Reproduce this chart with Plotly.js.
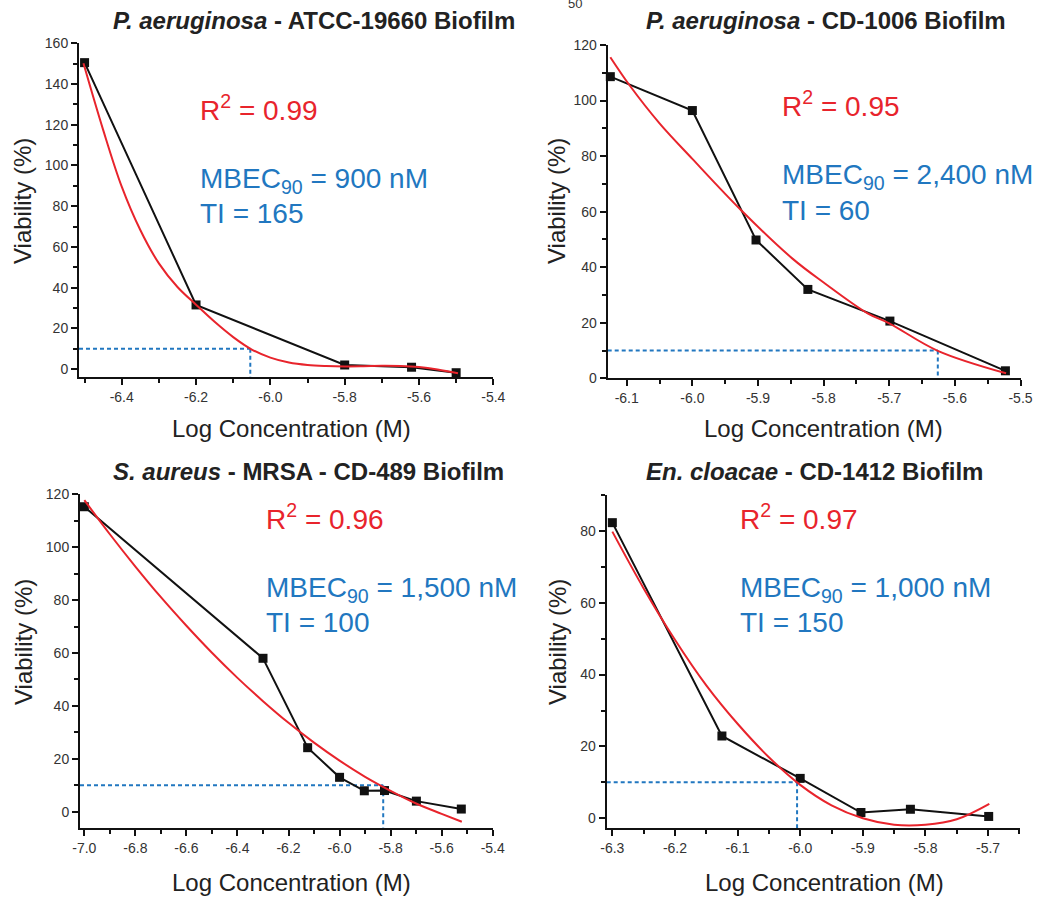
<!DOCTYPE html>
<html><head><meta charset="utf-8">
<script src="https://cdn.plot.ly/plotly-3.0.1.min.js"></script>
<style>html,body{margin:0;padding:0;background:#fff}#chart{width:1037px;height:897px}</style>
</head><body><div id="chart"></div>
<script>
// ---------- DATA ----------
// Panel 1: P. aeruginosa ATCC-19660
const p1X = [-6.50, -6.20, -5.80, -5.62, -5.50];
const p1Y = [150.5, 31.5, 2.0, 0.9, -1.8];
const p1FitX = [-6.503, -6.45, -6.40, -6.35, -6.30, -6.25, -6.20, -6.15, -6.10, -6.05, -6.00, -5.95, -5.90, -5.85, -5.80, -5.75, -5.70, -5.65, -5.60, -5.55, -5.495];
const p1FitY = [150.2, 117.5, 89.6, 68.3, 51.9, 40.3, 31.6, 23.2, 15.7, 9.6, 5.6, 3.2, 2.0, 1.5, 1.3, 1.4, 1.6, 1.5, 1.0, -0.2, -2.1];
const p1Mbec = -6.054;

// Panel 2: P. aeruginosa CD-1006
const p2X = [-6.125, -6.0, -5.903, -5.824, -5.699, -5.523];
const p2Y = [108.6, 96.4, 49.8, 32.0, 20.6, 2.7];
const p2FitX = [-6.125, -6.096, -6.05, -6.0, -5.926, -5.847, -5.8, -5.733, -5.7, -5.626, -5.522];
const p2FitY = [115.6, 105.6, 91.8, 79.0, 60.6, 43.0, 34.5, 23.4, 19.8, 9.9, 1.8];
const p2Mbec = -5.626;

// Panel 3: S. aureus MRSA CD-489
const p3X = [-7.0, -6.3, -6.125, -6.0, -5.903, -5.824, -5.699, -5.523];
const p3Y = [115.3, 58.0, 24.2, 13.0, 7.9, 8.0, 4.0, 1.0];
const p3FitX = [-7.0, -6.9, -6.8, -6.7, -6.6, -6.5, -6.4, -6.3, -6.2, -6.1, -6.0, -5.9, -5.8, -5.7, -5.6, -5.521];
const p3FitY = [117.8, 104.9, 92.7, 81.1, 70.3, 60.1, 50.6, 41.8, 33.6, 26.1, 19.3, 13.2, 7.9, 3.1, -0.8, -3.8];
const p3Mbec = -5.829;

// Panel 4: En. cloacae CD-1412
const p4X = [-6.3, -6.125, -6.0, -5.903, -5.824, -5.699];
const p4Y = [82.3, 22.9, 11.1, 1.6, 2.5, 0.5];
const p4FitX = [-6.3, -6.25, -6.2, -6.15, -6.1, -6.05, -6.0, -5.95, -5.9, -5.85, -5.8, -5.75, -5.698];
const p4FitY = [79.8, 64.0, 49.7, 37.0, 26.3, 17.0, 9.3, 3.6, 0.0, -1.8, -1.8, -0.3, 4.0];
const p4Mbec = -6.005;

const threshold = 10;

// tick labels
const x1Ticks = [-6.4, -6.2, -6.0, -5.8, -5.6, -5.4];
const x1Text  = ['-6.4', '-6.2', '-6.0', '-5.8', '-5.6', '-5.4'];
const x2Ticks = [-6.1, -6.0, -5.9, -5.8, -5.7, -5.6, -5.5];
const x2Text  = ['-6.1', '-6.0', '-5.9', '-5.8', '-5.7', '-5.6', '-5.5'];
const x3Ticks = [-7.0, -6.8, -6.6, -6.4, -6.2, -6.0, -5.8, -5.6, -5.4];
const x3Text  = ['-7.0', '-6.8', '-6.6', '-6.4', '-6.2', '-6.0', '-5.8', '-5.6', '-5.4'];
const x4Ticks = [-6.3, -6.2, -6.1, -6.0, -5.9, -5.8, -5.7];
const x4Text  = ['-6.3', '-6.2', '-6.1', '-6.0', '-5.9', '-5.8', '-5.7'];

const titles = [
  '<b><i>P. aeruginosa</i> - ATCC-19660 Biofilm</b>',
  '<b><i>P. aeruginosa</i> - CD-1006 Biofilm</b>',
  '<b><i>S. aureus</i> - MRSA - CD-489 Biofilm</b>',
  '<b><i>En. cloacae</i> - CD-1412 Biofilm</b>'
];
const r2Text = ['R<sup>2</sup> = 0.99', 'R<sup>2</sup> = 0.95', 'R<sup>2</sup> = 0.96', 'R<sup>2</sup> = 0.97'];
const mbecText = ['MBEC<sub>90</sub> = 900 nM', 'MBEC<sub>90</sub> = 2,400 nM', 'MBEC<sub>90</sub> = 1,500 nM', 'MBEC<sub>90</sub> = 1,000 nM'];
const tiText = ['TI = 165', 'TI = 60', 'TI = 100', 'TI = 150'];

// ---------- LAYOUT ----------
const W = 1037, H = 897;
const FONT = 'Liberation Sans, Arial, Helvetica, sans-serif';
const RED = '#e8242c', BLUE = '#2177c0', BLACK = '#111111';
const px = v => v / W;
const py = v => 1 - v / H;

const xRanges = [[-6.515, -5.4], [-6.129, -5.5], [-7.017, -5.4], [-6.309, -5.649]];
const yRanges = [[-3.9, 160], [0, 120], [-6.05, 120], [-2.8, 90]];
const xDomains = [[79, 493.3], [607.7, 1020.5], [80, 492.7], [606.7, 1020]];
const yDomains = [[377, 43.3], [378.3, 45], [827.7, 494.3], [828.3, 495]];
const xTickSets = [[x1Ticks, x1Text, 0.1], [x2Ticks, x2Text, 0.05], [x3Ticks, x3Text, 0.1], [x4Ticks, x4Text, 0.05]];

const panels = [
  [p1X, p1Y, p1FitX, p1FitY, p1Mbec],
  [p2X, p2Y, p2FitX, p2FitY, p2Mbec],
  [p3X, p3Y, p3FitX, p3FitY, p3Mbec],
  [p4X, p4Y, p4FitX, p4FitY, p4Mbec]
];

const traces = [];
const layout = {
  width: W, height: H,
  margin: {l: 0, r: 0, t: 0, b: 0},
  paper_bgcolor: '#fff', plot_bgcolor: 'rgba(0,0,0,0)',
  showlegend: false,
  font: {family: FONT, color: '#222'},
  annotations: []
};

panels.forEach((p, i) => {
  const n = i + 1;
  const xa = 'x' + (n === 1 ? '' : n), ya = 'y' + (n === 1 ? '' : n);
  const [dx, dy, fx, fy, mb] = p;
  const xr = xRanges[i], yr = yRanges[i];
  // blue dashed guide lines
  traces.push({x: [xr[0], mb], y: [threshold, threshold], xaxis: xa, yaxis: ya, mode: 'lines',
    line: {color: BLUE, width: 2, dash: '4px,3px'}, hoverinfo: 'skip', cliponaxis: false});
  traces.push({x: [mb, mb], y: [threshold, yr[0]], xaxis: xa, yaxis: ya, mode: 'lines',
    line: {color: BLUE, width: 2, dash: '4px,3px'}, hoverinfo: 'skip', cliponaxis: false});
  // data
  traces.push({x: dx, y: dy, xaxis: xa, yaxis: ya, mode: 'lines+markers',
    line: {color: BLACK, width: 2}, marker: {symbol: 'square', size: 9, color: BLACK},
    cliponaxis: false});
  // fit
  traces.push({x: fx, y: fy, xaxis: xa, yaxis: ya, mode: 'lines',
    line: {color: RED, width: 2, shape: 'spline', smoothing: 1}, cliponaxis: false});

  const common = {
    showline: true, linecolor: BLACK, linewidth: 2,
    ticks: 'outside', ticklen: 6, tickwidth: 2, tickcolor: BLACK,
    showgrid: false, zeroline: false, fixedrange: true,
    tickfont: {family: FONT, size: 14, color: '#333'}
  };
  const [tv, tt, mdt] = xTickSets[i];
  layout['xaxis' + (n === 1 ? '' : n)] = Object.assign({}, common, {
    domain: [px(xDomains[i][0]), px(xDomains[i][1])],
    range: xr, anchor: ya, tickmode: 'array', tickvals: tv, ticktext: tt,
    minor: {tickmode: 'linear', tick0: 0, dtick: mdt, ticks: 'outside', ticklen: 4, tickwidth: 2, tickcolor: BLACK, showgrid: false}
  });
  layout['yaxis' + (n === 1 ? '' : n)] = Object.assign({}, common, {
    domain: [py(yDomains[i][0]), py(yDomains[i][1])],
    range: yr, anchor: xa, tickmode: 'linear', tick0: 0, dtick: 20,
    minor: {tickmode: 'linear', tick0: 0, dtick: 10, ticks: 'outside', ticklen: 4, tickwidth: 2, tickcolor: BLACK, showgrid: false}
  });
});

// text positions (pixel centers)
const titlePos = [[314, 21], [826, 21], [308, 471], [814, 471]];
const r2Pos = [[198, 108], [780, 104], [264, 517], [738, 517]];
const mbecPos = [[198, 181], [780, 177], [264, 589], [738, 589]];
const tiPos = [[198, 213], [780, 210], [264, 622], [738, 622]];
const xtPos = [[291, 428], [823, 428], [291, 882], [824, 882]];
const ytPos = [[23, 201], [557, 201], [23, 642], [557, 642]];

const ann = (text, x, y, opts) => Object.assign({
  text: text, xref: 'paper', yref: 'paper', x: px(x), y: py(y),
  showarrow: false, xanchor: 'center', yanchor: 'middle'
}, opts);

for (let i = 0; i < 4; i++) {
  layout.annotations.push(ann(titles[i], titlePos[i][0], titlePos[i][1], {font: {family: FONT, size: 24, color: '#222'}}));
  layout.annotations.push(ann(r2Text[i], r2Pos[i][0], r2Pos[i][1], {xanchor: 'left', font: {family: FONT, size: 28, color: RED}}));
  layout.annotations.push(ann(mbecText[i], mbecPos[i][0], mbecPos[i][1], {xanchor: 'left', font: {family: FONT, size: 28, color: BLUE}}));
  layout.annotations.push(ann(tiText[i], tiPos[i][0], tiPos[i][1], {xanchor: 'left', font: {family: FONT, size: 28, color: BLUE}}));
  layout.annotations.push(ann('Log Concentration (M)', xtPos[i][0], xtPos[i][1], {font: {family: FONT, size: 24, color: '#222'}}));
  layout.annotations.push(ann('Viability (%)', ytPos[i][0], ytPos[i][1], {textangle: -90, font: {family: FONT, size: 24, color: '#222'}}));
}
// stray label partly cut at the very top (as in the reference)
layout.annotations.push(ann('50', 575, 4, {font: {family: FONT, size: 13, color: '#333'}}));

Plotly.newPlot('chart', traces, layout, {staticPlot: true, displayModeBar: false});
</script></body></html>
